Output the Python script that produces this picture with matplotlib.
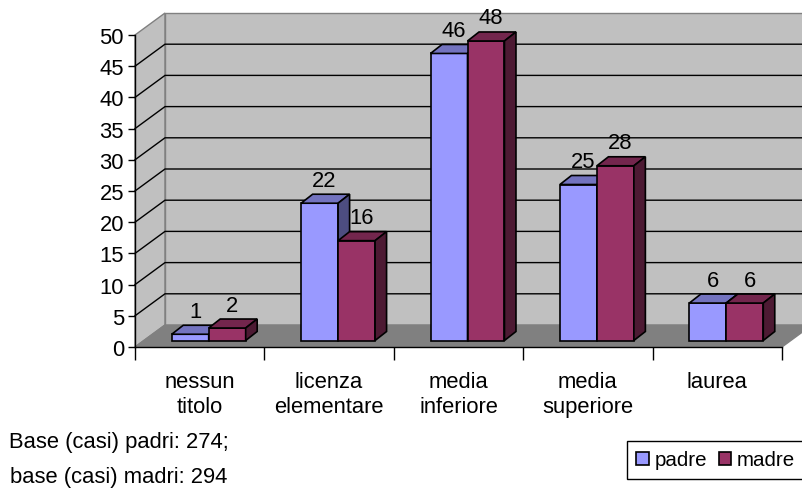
import matplotlib
matplotlib.use('Agg')
import matplotlib.pyplot as plt
from matplotlib.patches import Polygon, Patch

# dati
categorie = ['nessun\ntitolo', 'licenza\nelementare', 'media\ninferiore',
             'media\nsuperiore', 'laurea']
serie = ['padre', 'madre']
padre = [1, 22, 46, 25, 6]
madre = [2, 16, 48, 28, 6]
y_ticks = list(range(0, 55, 5))
nota = ['Base (casi) padri: 274;', 'base (casi) madri: 294']

plt.rcParams['font.family'] = ['Liberation Sans', 'DejaVu Sans']
plt.rcParams['font.size'] = 15.8

W, H = 802, 489
fig = plt.figure(figsize=(W / 100, H / 100), dpi=100)

# piano frontale del box 3d (pixel)
x0, x1, y0, y1 = 135, 782, 348, 36
ax = fig.add_axes([x0 / W, 1 - y0 / H, (x1 - x0) / W, (y0 - y1) / H])
n = len(categorie)
ymax = y_ticks[-1]
ax.set_xlim(0, n)
ax.set_ylim(0, ymax)
ax.set_facecolor('none')

px_x = (x1 - x0) / n
px_y = (y0 - y1) / ymax


def off(dx, dy):
    # offset in pixel -> offset in unita' dati
    return dx / px_x, dy / px_y


DX, DY = off(30, 22)

# pareti e pavimento
wall_kw = dict(closed=True, lw=1, clip_on=False)
ax.add_patch(Polygon([(0, 0), (0, ymax), (DX, ymax + DY), (DX, DY)],
                     fc='#c0c0c0', ec='#808080', zorder=0, **wall_kw))
ax.add_patch(Polygon([(DX, DY), (DX, ymax + DY), (n + DX, ymax + DY), (n + DX, DY)],
                     fc='#c0c0c0', ec='#808080', zorder=0, **wall_kw))
ax.add_patch(Polygon([(0, 0), (n, 0), (n + DX, DY), (DX, DY)],
                     fc='#808080', ec='#808080', zorder=0.5, **wall_kw))

for v in y_ticks[1:-1]:
    ax.plot([0, DX, n + DX], [v, v + DY, v + DY], color='black', lw=1,
            clip_on=False, zorder=1)

# barre
w = 1 / 3.5
gap = (1 - 2 * w) / 2
fx, fy = off(9, 6.5)
bx, by = off(11.5, 9)
lx, ly = off(5, 23)
colori = {'padre': ('#9999ff', '#7373bf', '#4d4d80'),
          'madre': ('#993366', '#73264d', '#4d1a33')}
bar_kw = dict(closed=True, ec='black', lw=1.2, clip_on=False, zorder=3)

for i in range(n):
    for j, (nome, vals) in enumerate(zip(serie, [padre, madre])):
        v = vals[i]
        c_front, c_top, c_side = colori[nome]
        l = i + gap + j * w + fx
        r = l + w
        b = fy
        t = v + fy
        ax.add_patch(Polygon([(l, b), (r, b), (r, t), (l, t)], fc=c_front, **bar_kw))
        ax.add_patch(Polygon([(l, t), (r, t), (r + bx, t + by), (l + bx, t + by)],
                             fc=c_top, **bar_kw))
        ax.add_patch(Polygon([(r, b), (r + bx, b + by), (r + bx, t + by), (r, t)],
                             fc=c_side, **bar_kw))
        ax.text((l + r) / 2 + lx, t + ly, str(v), ha='center', va='center',
                zorder=5)

# assi
for s in ['top', 'right']:
    ax.spines[s].set_visible(False)
for s in ['left', 'bottom']:
    ax.spines[s].set_color('black')
    ax.spines[s].set_linewidth(1)
    ax.spines[s].set_zorder(2)

ax.set_yticks(y_ticks)
ax.tick_params(axis='y', direction='out', length=5, width=1, pad=3)
ax.set_xticks(range(n + 1))
ax.set_xticklabels([''] * (n + 1))
ax.tick_params(axis='x', which='major', direction='out', length=9, width=1)
ax.set_xticks([i + 0.5 for i in range(n)], minor=True)
ax.set_xticklabels(categorie, minor=True, linespacing=1.3)
ax.tick_params(axis='x', which='minor', length=0, pad=17)

# nota
fig.text(119 / W, 1 - 443 / H, nota[0], ha='center', va='center')
fig.text(119 / W, 1 - 478 / H, nota[1], ha='center', va='center')

# legenda
handles = [Patch(fc=colori[s][0], ec='black', lw=1.2) for s in serie]
leg = fig.legend(handles, serie, loc='center left',
                 bbox_to_anchor=(627 / W, 1 - 461 / H), ncol=2, fontsize=14.8,
                 frameon=True, fancybox=False, edgecolor='black', framealpha=1,
                 handlelength=0.6, handleheight=0.6, handletextpad=0.3,
                 columnspacing=0.55, borderpad=0.45, borderaxespad=0)
leg.get_frame().set_linewidth(1)

fig.savefig('out.png', dpi=100)
